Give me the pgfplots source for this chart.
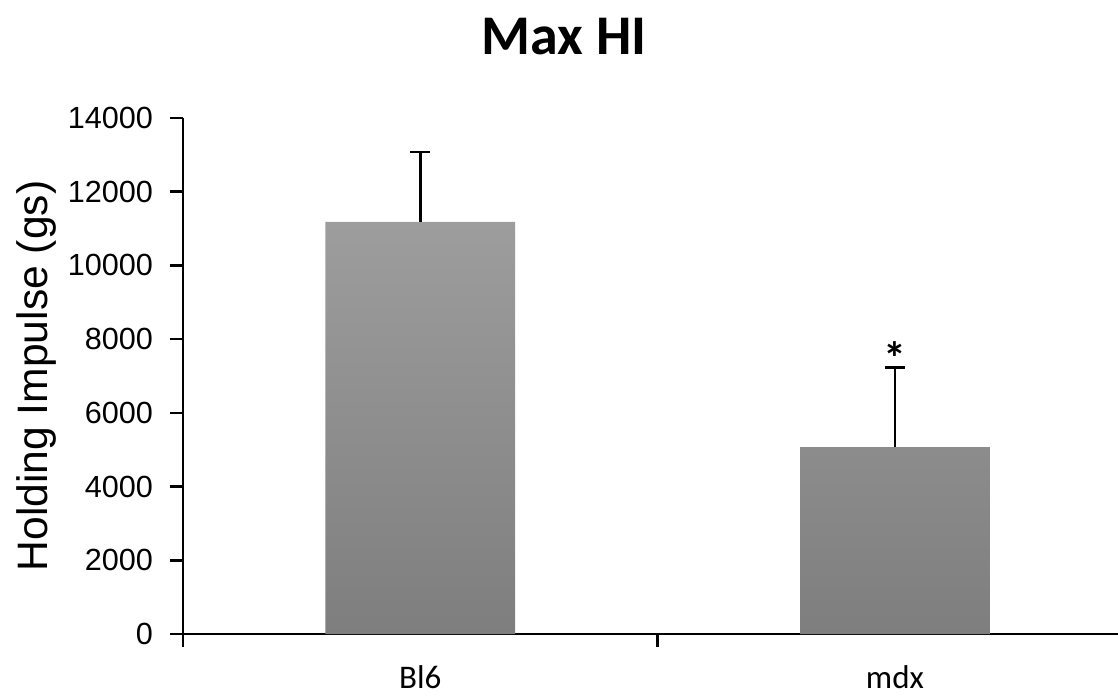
\documentclass[border=0pt]{standalone}
\usepackage{pgfplots}
\pgfplotsset{compat=1.18}
\usepackage{fontspec}
\setmainfont{Liberation Sans}
\newfontfamily\calfont{Carlito}
\definecolor{bartop}{HTML}{9D9D9D}
\definecolor{barbot}{HTML}{7E7E7E}
\begin{document}
\begin{tikzpicture}
\begin{axis}[
  name=ax,
  scale only axis,
  width=467.5pt, height=258pt,
  xmin=-0.5, xmax=1.47,
  ymin=0, ymax=14000,
  axis x line=bottom, axis y line=left,
  axis line style={-, line width=1.3pt, black},
  every tick/.style={black, line width=1.3pt},
  tick align=outside,
  major tick length=6.5pt,
  ytick={0,2000,...,14000},
  xtick={-0.5,0.5},
  xticklabels={},
  extra x ticks={0,1},
  extra x tick labels={Bl6,mdx},
  extra x tick style={major tick length=0pt, tick label style={font=\calfont\fontsize{16.5pt}{20pt}\selectfont, anchor=base, yshift=-27pt}},
  yticklabel style={font=\fontsize{15.3pt}{18pt}\selectfont, xshift=-5pt},
  /pgf/number format/assume math mode=true,
  scaled y ticks=false,
  yticklabel={\pgfmathprintnumber[fixed,1000 sep={}]{\tick}},
  clip=false,
]
\addplot[ybar, bar width=0.4, draw=none, top color=bartop, bottom color=barbot,
  error bars/.cd, y dir=plus, y explicit,
  error bar style={black, line width=1.4pt},
  error mark options={rotate=90, black, mark size=5pt, line width=1.4pt}]
  coordinates {(0,11180) +- (0,1900) (1,5070) +- (0,2170)};
\node[font=\calfont\bfseries\fontsize{23pt}{28pt}\selectfont, anchor=center] at (axis cs:1,7500) {*};
\end{axis}
\node[font=\calfont\bfseries\fontsize{28pt}{34pt}\selectfont, anchor=base] at ([xshift=190.5pt, yshift=31.5pt]ax.north west) {Max HI};
\node[font=\fontsize{21.3pt}{25pt}\selectfont, rotate=90, anchor=base] at ([xshift=-67.5pt]ax.west) {Holding Impulse (gs)};
\pgfresetboundingbox
\path ([shift={(-91.5pt,-31.5pt)}]ax.south west) rectangle ([shift={(0pt,59pt)}]ax.north east);
\end{tikzpicture}
\end{document}
